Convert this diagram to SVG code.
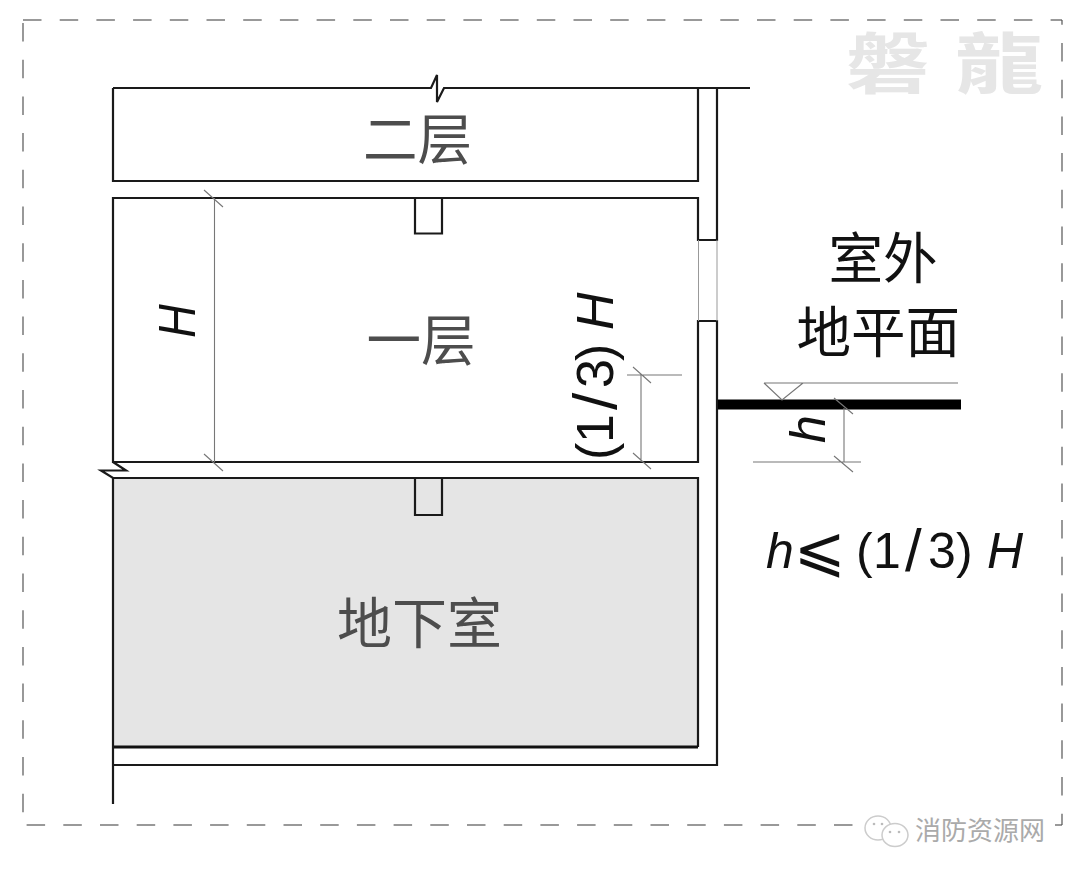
<svg xmlns="http://www.w3.org/2000/svg" width="1080" height="878" viewBox="0 0 1080 878">
<style>
.w{fill:none;stroke:#1a1a1a;stroke-width:2.200}
.d{fill:none;stroke:#777;stroke-width:1.100}
.cn{font-family:"Noto Sans CJK SC","Noto Sans",sans-serif;font-size:54.500px}
.gr{fill:#4d4d4d}
.bk{fill:#111}
.lat{font-family:"Liberation Sans",sans-serif;fill:#111;font-size:50px}
.it{font-style:italic}
.fh{fill:none;stroke:#999;stroke-width:2;stroke-dasharray:18.500 18.200}
.fv{fill:none;stroke:#555;stroke-width:1.200;stroke-dasharray:18.500 18.200}
.wm{font-family:"Noto Sans CJK TC",sans-serif;font-size:66px;font-weight:700;fill:#e6e6e6}
.bub{fill:#fff;stroke:#ccc;stroke-width:1.500}
</style>
<rect width="1080" height="878" fill="#fff"/>
<path class="fh" d="M23 20H1062"/>
<path class="fh" d="M26.600 825H1062"/>
<path class="fv" d="M23 23V825"/>
<path class="fv" d="M1062 20V825" stroke-dashoffset="13.700"/>
<g id="watermark"><text class="wm" transform="translate(846 88) scale(1.270 1)">磐</text><text class="wm" transform="translate(955 88) scale(1.340 1)">龍</text></g>
<g id="building">
<rect id="basement" x="113" y="478" width="585" height="269" fill="#e5e5e5"/>
<path class="w" d="M113 88H431L437 75L437 102L444 88H750"/>
<path class="w" d="M113 88V181H698V88"/>
<path class="w" d="M717 88V240H698V198H113V462H698V321H717V765H113"/>
<path class="w" d="M113 462L126 470.500L101 470.500L113 478H698V747"/>
<path class="w" d="M113 747H698" style="stroke-width:3;stroke:#111"/>
<path class="w" d="M113 478V804"/>
<path class="w" d="M415 198V233.500H442V198"/>
<path class="w" d="M415 478V515H442V478"/>
<path d="M698.500 240V321M717 240V321" fill="none" stroke="#999" stroke-width="1"/>
<path d="M718 404.500H961" stroke="#000" stroke-width="10" fill="none"/>
</g>
<g id="connectors">
<path class="d" d="M214.500 198V462M204 190L223 207M204 454L223 471"/>
<path class="d" d="M627 375H682M641 375V462M633 367L651 383M633 453L651 469"/>
<path class="d" d="M764 383H958M764 383L782 400L803 383"/>
<path class="d" d="M844 408V462M834 398L853 414M753 462H861M834 456L853 472"/>
</g>
<g id="label-2f"><text class="cn gr" x="363" y="158.500">二层</text></g>
<g id="label-1f"><text class="cn gr" x="366.500" y="359.500">一层</text></g>
<g id="label-b1"><text class="cn gr" x="337" y="643" style="font-size:55px">地下室</text></g>
<g id="label-outdoor"><text class="cn bk" x="828.500" y="278">室外</text><text class="cn bk" x="796.500" y="352">地平面</text></g>
<text class="lat it" transform="translate(195 338) rotate(-90) scale(.9 1)" style="font-size:52px">H</text>
<text class="lat" transform="translate(613 460) rotate(-90)" style="font-size:52px" y="0"><tspan x="0">(</tspan><tspan x="17">1</tspan><tspan x="50" y="3" style="font-size:62px">/</tspan><tspan x="72" y="0">3</tspan><tspan x="99">)</tspan><tspan class="it" x="130">H</tspan></text>
<text class="lat it" transform="translate(825 443) rotate(-90)" style="font-size:50px">h</text>
<text class="lat" y="568"><tspan class="it" x="766">h</tspan><tspan x="794" y="570" style="font-family:'DejaVu Sans',sans-serif;font-size:62px">⩽</tspan><tspan x="856" y="568">(</tspan><tspan x="873">1</tspan><tspan x="905" y="571" style="font-size:60px">/</tspan><tspan x="928" y="568">3</tspan><tspan x="956">)</tspan><tspan class="it" x="987">H</tspan></text>
<g id="wechat">
<rect x="853" y="815" width="202" height="20" fill="#fff"/>
<ellipse class="bub" cx="878" cy="828" rx="13" ry="12"/>
<ellipse class="bub" cx="895" cy="835" rx="13" ry="11.500"/>
<circle cx="874" cy="824" r="1.300" fill="#bbb"/><circle cx="882" cy="824" r="1.300" fill="#bbb"/>
<circle cx="890" cy="832" r="1.300" fill="#bbb"/><circle cx="899" cy="832" r="1.300" fill="#bbb"/>
<text x="915" y="840" font-family="Noto Sans CJK SC,sans-serif" font-size="26" fill="#aaa">消防资源网</text>
</g>
</svg>
